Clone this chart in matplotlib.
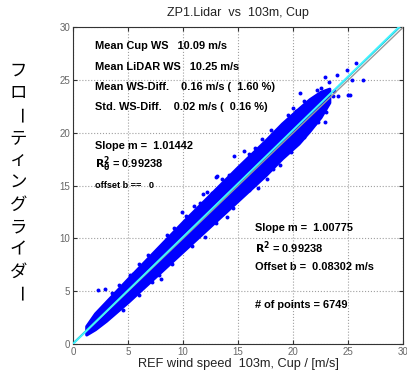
import numpy as np
import matplotlib
matplotlib.use("Agg")
import matplotlib.pyplot as plt

plt.rcParams['font.family'] = ['Liberation Sans', 'DejaVu Sans']

# dense core of the scatter cloud: x, upper y, lower y
env_x = [1.2, 2.0, 3.0, 5.0, 7.5, 10.0, 12.5, 15.0, 17.5, 19.0, 20.5, 21.5, 22.5, 23.3]
env_hi = [1.7, 2.9, 4.0, 6.2, 8.9, 11.6, 14.2, 16.8, 19.3, 20.9, 22.3, 23.2, 23.9, 24.2]
env_lo = [0.9, 1.4, 2.2, 4.0, 6.4, 8.8, 11.2, 13.6, 16.0, 17.6, 19.0, 20.2, 21.5, 22.9]

# scattered single points outside / at the edge of the core
out_x = [2.3, 2.95, 5.45, 7.2, 8.0, 9.9, 11.8, 12.0, 12.6, 13.0, 13.1, 14.0, 14.6,
         15.5, 16.8, 17.6, 18.8, 20.3, 20.6, 21.8, 22.2, 22.3, 22.5, 22.6, 22.9,
         22.9, 23.6, 23.7, 24.0, 24.1, 24.9, 25.0, 25.2, 25.4, 25.7, 26.4,
         3.5, 4.2, 6.0, 6.8, 8.5, 9.2, 11.0, 11.5, 13.5, 14.2, 16.0, 16.5, 18.0,
         19.5, 21.0, 4.5, 6.0, 7.8, 9.0, 10.8, 13.0, 14.5, 16.0, 18.2, 19.8,
         21.0, 22.0, 23.0, 2.6, 5.2, 10.3, 12.2, 17.2, 20.0, 23.3]
out_y = [5.1, 5.2, 6.6, 5.9, 6.2, 12.5, 14.2, 10.1, 14.3, 15.8, 15.9, 12.0, 17.8,
         18.3, 14.8, 15.6, 17.0, 22.1, 23.8, 22.5, 24.1, 21.0, 24.3, 23.5, 25.3,
         21.0, 23.5, 24.0, 25.5, 23.5, 26.0, 23.6, 23.6, 25.0, 26.6, 25.0,
         4.8, 5.6, 7.6, 8.4, 10.3, 11.0, 13.1, 13.4, 15.6, 16.0, 18.0, 18.6, 20.3,
         21.7, 23.0, 3.2, 4.6, 6.5, 7.6, 9.3, 11.5, 12.9, 14.6, 16.6, 18.2,
         19.6, 20.9, 22.0, 3.4, 6.5, 12.1, 14.4, 19.4, 22.4, 24.8]

slope0 = 1.01442
slope1, offset1 = 1.00775, 0.08302

left_text = ["Mean Cup WS   10.09 m/s",
             "Mean LiDAR WS   10.25 m/s",
             "Mean WS-Diff.    0.16 m/s (  1.60 %)",
             "Std. WS-Diff.    0.02 m/s (  0.16 %)"]

fig = plt.figure(figsize=(4.07, 3.76), dpi=100)
ax = fig.add_axes([0.1794, 0.0851, 0.8108, 0.8418])

ax.fill_between(env_x, env_lo, env_hi, color='#0000ff', lw=2.2, edgecolor='#0000ff', zorder=2)
ax.scatter(out_x, out_y, s=8, color='#0000ff', lw=0, zorder=2)

xx = np.array([0, 30])
ax.plot(xx, xx, color='#9a9a9a', lw=1.0, zorder=3)
ax.plot(xx, slope1 * xx + offset1, color='#1fb5c8', lw=1.0, zorder=3)
ax.plot(xx, slope0 * xx, color='#40f4ff', lw=1.3, zorder=4)

ax.set_xlim(0, 30)
ax.set_ylim(0, 30)
ticks = [0, 5, 10, 15, 20, 25, 30]
ax.set_xticks(ticks)
ax.set_yticks(ticks)
ax.grid(True, ls=':', color='#a0a0a0', lw=0.8)
ax.tick_params(direction='in', length=3, labelsize=7, colors='#333333',
               labelcolor='#666666', top=True, right=True, pad=2)
for s in ax.spines.values():
    s.set_color('#333333')
    s.set_linewidth(0.8)

ax.set_title("ZP1.Lidar  vs  103m, Cup", fontsize=9, color='#222222', pad=8)
ax.set_xlabel("REF wind speed  103m, Cup / [m/s]", fontsize=9.2, color='#222222', labelpad=1)

fs = 7.9
for i, t in enumerate(left_text):
    ax.text(2.0, 28.2 - i * 1.9, t, fontsize=fs, fontweight='bold', va='center', zorder=5)
ax.text(2.0, 18.8, "Slope m =  1.01442", fontsize=fs, fontweight='bold', va='center', zorder=5)
ax.text(2.0, 17.0, r"$\mathbf{R_\theta^2}$ = 0.99238", fontsize=fs, fontweight='bold', va='center', zorder=5)
ax.text(2.0, 15.0, "offset b ==   0", fontsize=6.6, fontweight='bold', va='center', zorder=5)

ax.text(16.55, 11.0, "Slope m =  1.00775", fontsize=fs, fontweight='bold', va='center', zorder=5)
ax.text(16.55, 9.1, r"$\mathbf{R^2}$ = 0.99238", fontsize=fs, fontweight='bold', va='center', zorder=5)
ax.text(16.55, 7.3, "Offset b =  0.08302 m/s", fontsize=fs, fontweight='bold', va='center', zorder=5)
ax.text(16.55, 3.7, "# of points = 6749", fontsize=fs, fontweight='bold', va='center', zorder=5)

# vertical (tategaki) y label: one character per row, long vowel mark turned upright
ylab = "フローティングライダー"
y0, dy = 1 - 71 / 376, 22.3 / 376
for i, ch in enumerate(ylab):
    fig.text(0.045, y0 - i * dy, ch, fontsize=12.5, ha='center', va='center',
             rotation=-90 if ch == "ー" else 0,
             family=['Noto Sans CJK JP', 'DejaVu Sans'])

fig.savefig("out.png", dpi=100)
